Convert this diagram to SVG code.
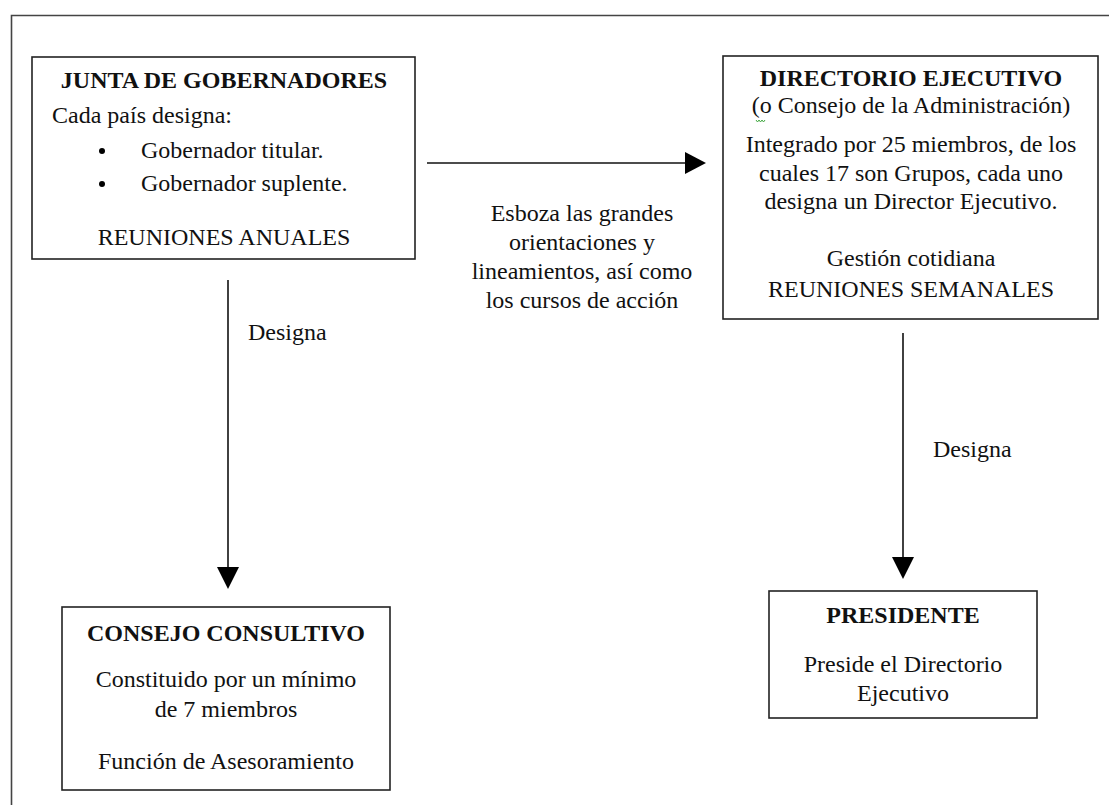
<svg xmlns="http://www.w3.org/2000/svg" width="1109" height="805" viewBox="0 0 1109 805">
<style>
text{font-family:"Liberation Serif","Times New Roman",serif;font-size:24px;fill:#111}
.b{font-weight:bold}
.c{text-anchor:middle}
.box{fill:#fff;stroke:#222;stroke-width:1.6}
.ln{stroke:#111;stroke-width:1.6;fill:none}
.ah{fill:#000}
</style>
<rect x="0" y="0" width="1109" height="805" fill="#fff"/>
<path d="M11.5,805 V15.5 H1109" fill="none" stroke="#444" stroke-width="1.6"/>
<g id="junta">
<rect class="box" x="32" y="57" width="383" height="202"/>
<text class="b c" x="224" y="88">JUNTA DE GOBERNADORES</text>
<text x="52" y="123">Cada país designa:</text>
<circle cx="102" cy="151" r="3"/>
<text x="141" y="158">Gobernador titular.</text>
<circle cx="102" cy="184" r="3"/>
<text x="141" y="191">Gobernador suplente.</text>
<text class="c" x="224" y="245">REUNIONES ANUALES</text>
</g>
<g id="directorio">
<rect class="box" x="723" y="56" width="375" height="263"/>
<text class="b c" x="911" y="86">DIRECTORIO EJECUTIVO</text>
<text class="c" x="911" y="113">(o Consejo de la Administración)</text>
<path d="M756,120 l1.5,2 l1.5,-2 l1.5,2 l1.5,-2 l1.5,2 l1.5,-2" fill="none" stroke="#4a4" stroke-width="1"/>
<text class="c" x="911" y="152">Integrado por 25 miembros, de los</text>
<text class="c" x="911" y="181">cuales 17 son Grupos, cada uno</text>
<text class="c" x="911" y="209">designa un Director Ejecutivo.</text>
<text class="c" x="911" y="266">Gestión cotidiana</text>
<text class="c" x="911" y="297">REUNIONES SEMANALES</text>
</g>
<g id="consejo">
<rect class="box" x="62" y="607" width="328" height="183"/>
<text class="b c" x="226" y="641">CONSEJO CONSULTIVO</text>
<text class="c" x="226" y="687">Constituido por un mínimo</text>
<text class="c" x="226" y="717">de 7 miembros</text>
<text class="c" x="226" y="769">Función de Asesoramiento</text>
</g>
<g id="presidente">
<rect class="box" x="769" y="591" width="268" height="127"/>
<text class="b c" x="903" y="623">PRESIDENTE</text>
<text class="c" x="903" y="672">Preside el Directorio</text>
<text class="c" x="903" y="701">Ejecutivo</text>
</g>
<g id="connectors">
<line class="ln" x1="427" y1="163" x2="688" y2="163"/>
<polygon class="ah" points="685,152 706,163 685,174"/>
<text class="c" x="582" y="221">Esboza las grandes</text>
<text class="c" x="582" y="250">orientaciones y</text>
<text class="c" x="582" y="279">lineamientos, así como</text>
<text class="c" x="582" y="308">los cursos de acción</text>
<line class="ln" x1="228" y1="280" x2="228" y2="570"/>
<polygon class="ah" points="217,567 239,567 228,589"/>
<text x="248" y="340">Designa</text>
<line class="ln" x1="903" y1="333" x2="903" y2="560"/>
<polygon class="ah" points="892,557 914,557 903,579"/>
<text x="933" y="457">Designa</text>
</g>
</svg>
